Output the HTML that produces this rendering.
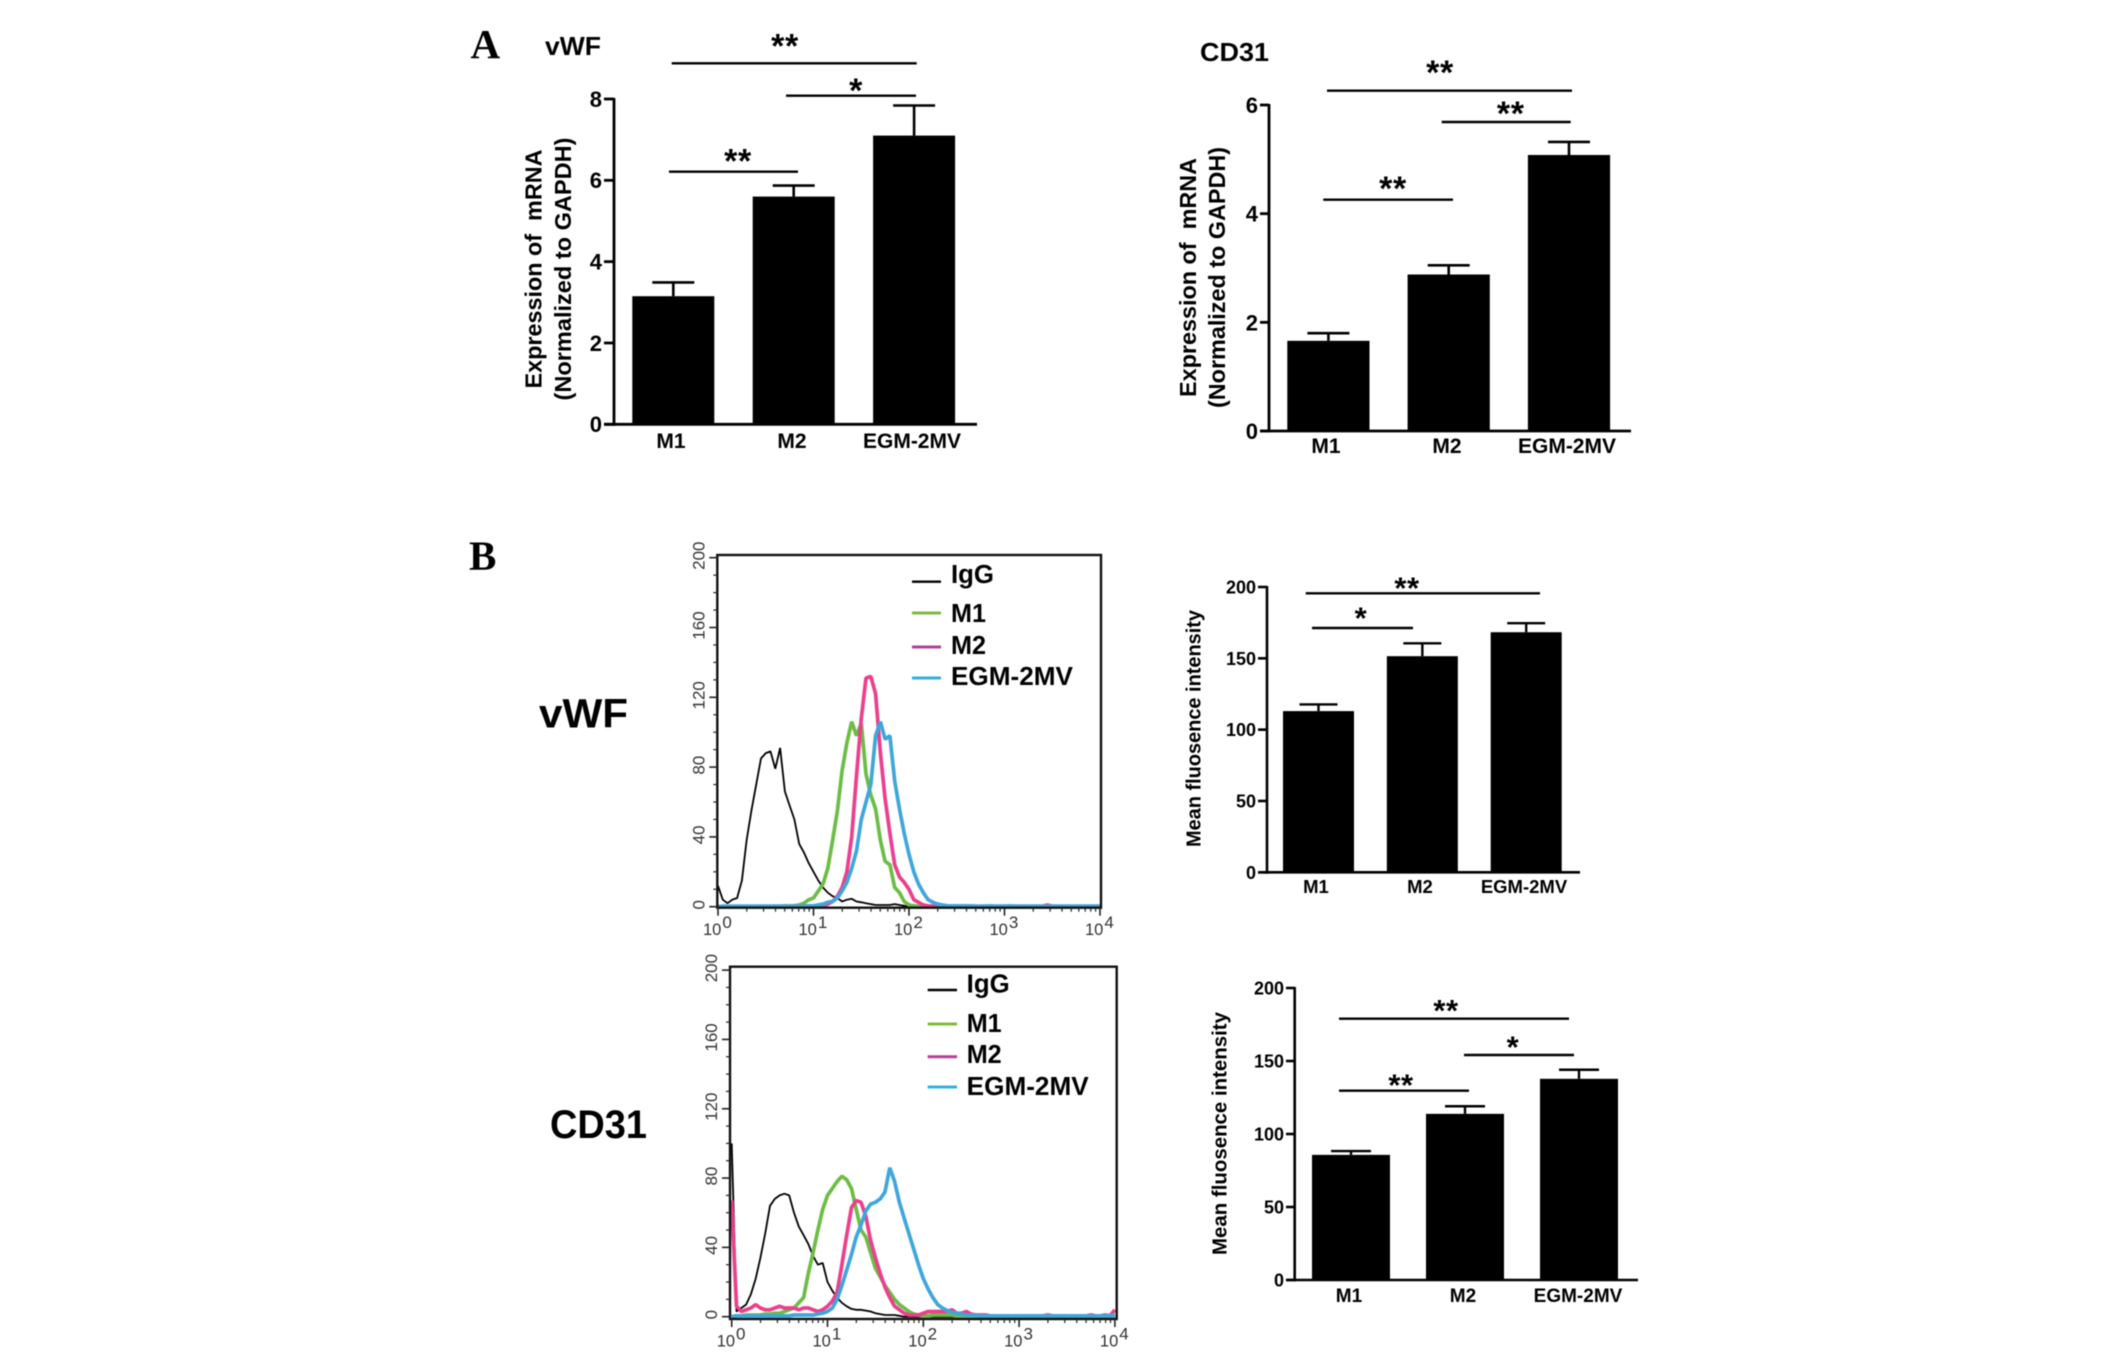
<!DOCTYPE html>
<html lang="en">
<head>
<meta charset="utf-8">
<title>vWF and CD31 expression</title>
<style>
html,body{margin:0;padding:0;background:#fff;}
#figure{display:block;width:2126px;height:1355px;filter:blur(0.45px);}
text{font-family:"Liberation Sans",Arial,sans-serif;fill:#000;}
</style>
</head>
<body>
<svg id="figure" xmlns="http://www.w3.org/2000/svg" width="2126" height="1355" viewBox="0 0 2126 1355">
<rect x="0" y="0" width="2126" height="1355" fill="#fff"/>
<text x="470.5" y="58" style="font-family:'Liberation Serif',serif" font-weight="700" font-size="41">A</text>
<text x="469" y="569.5" style="font-family:'Liberation Serif',serif" font-weight="700" font-size="41">B</text>
<text x="545" y="55" font-weight="700" font-size="26" textLength="56" lengthAdjust="spacingAndGlyphs">vWF</text>
<text x="1200" y="61" font-weight="700" font-size="26" textLength="69" lengthAdjust="spacingAndGlyphs">CD31</text>
<text x="539" y="727.5" font-weight="700" font-size="41" textLength="89" lengthAdjust="spacingAndGlyphs">vWF</text>
<text x="550" y="1138" font-weight="700" font-size="40" textLength="97" lengthAdjust="spacingAndGlyphs">CD31</text>
</svg>
<script>
// ---------- bar chart data ----------
const categories = ['M1', 'M2', 'EGM-2MV'];
const vwfMrnaValues = [3.15, 5.6, 7.1];
const vwfMrnaErrors = [0.34, 0.27, 0.74];
const vwfMrnaTicks = [0, 2, 4, 6, 8];
const cd31MrnaValues = [1.66, 2.88, 5.08];
const cd31MrnaErrors = [0.14, 0.17, 0.24];
const cd31MrnaTicks = [0, 2, 4, 6];
const vwfMfiValues = [113, 151.5, 168.3];
const vwfMfiErrors = [4.7, 9, 6.3];
const vwfMfiTicks = [0, 50, 100, 150, 200];
const cd31MfiValues = [85.7, 113.8, 137.8];
const cd31MfiErrors = [2.6, 5.2, 6.2];
const cd31MfiTicks = [0, 50, 100, 150, 200];

// ---------- flow histogram data: counts per 0.05-decade fluorescence bin, 10^0 to 10^4 ----------
const logBinStep = 0.05;
const flowCountTicks = [0, 40, 80, 120, 160, 200];
const flowDecades = [0, 1, 2, 3, 4];
const vwfIgG = [
12,4,2,4,5,15,38,55,70,85,88,89,79,91,66,58,50,36,31,25,
20,15,11,8,6,5,3,4,4.5,3,2.5,2,1.5,1,1,1,1,1.5,1,0.5,
0,0,0,0,0,0,0,0,0,0,0,0,0,0,0,0,0,0,0,0,
0,0,0,0,0,0,0,0,0,0,0,0,0,0,0,0,0,0,0,0,0];
const vwfM1 = [
0,0,0,0,0,0,0,0,0.3,0.3,0.3,0.3,0.3,0.3,0.5,0.5,0.5,1,2,4,
5,9,13,22,38,55,78,94,106,98,105,76,64,56,38,26,24,11,8,3,
1,0.5,0.3,0.3,0.3,0.3,1,0.5,0.3,0.3,0.3,0.3,0.3,0.5,0.3,0.3,0.3,0.3,0.3,0.3,
0.3,0.3,0.3,0.3,0.3,0.3,0.3,0.3,0.3,0.3,0.3,0.3,0.3,0.3,0.3,0.3,0.3,0.3,0.3,0.3,0.3];
const vwfM2 = [
0,0.3,0.3,0.3,0.3,0.3,0.3,0.3,0.3,0.3,0.3,0.3,0.3,0.3,0.3,0.3,0.5,0.3,0.3,0.3,
0.3,0.3,0.5,1.5,3,6,11,20,40,75,108,131,132,122,88,62,42,24,17,14,
10,4,2.5,1,0.5,0.3,0.3,0.3,0.3,0.3,0.3,0.3,0.3,0.3,0.3,0.3,0.3,0.3,0.3,0.3,
0.3,0.3,0.3,0.3,0.3,0.3,0.3,0.3,0.3,1,0.3,0.3,0.3,0.3,0.3,0.3,0.3,0.3,0.3,0.3,0.3];
const vwfEGM = [
0,0.3,0.3,0.3,0.3,0.3,0.3,0.3,0.3,0.3,0.3,0.3,0.3,0.3,0.3,0.3,0.3,0.3,0.3,0.5,
0.5,1,1.5,2.5,3,5,9,14,22,32,50,60,70,98,106,96,98,72,56,42,
30,20,13,8,4,2.5,1.5,1,0.5,0.5,0.5,0.5,0.5,0.5,0.3,0.3,0.3,0.5,0.3,0.3,
0.3,0.5,0.3,0.3,0.3,0.3,0.3,0.3,0.3,0.3,0.3,0.3,0.3,0.3,0.3,0.3,0.3,0.3,0.3,0.3,0.3];
const cd31IgG = [
100,3,5,7,13,22,34,48,64,68,70,71,70,60,52,47,42,35,30,31,
20,15,11,8,6,4.5,4,4,3.5,3,2,1.5,1,1,1,0.5,0,0,0,0,
0,0,0,0,0,0,0,0,0,0,0,0,0,0,0,0,0,0,0,0,
0,0,0,0,0,0,0,0,0,0,0,0,0,0,0,0,0,0,0,0,0];
const cd31M1 = [
0,0.5,0.5,1,1,1,1,1.5,1.5,2,2,3,4,5,8,11,25,37,50,62,
70,74,78,81,79,74,62,50,46,37,28,23,18,14,10,7,5,3,1.5,1,
0.5,0.5,1,1,1,1,1,0.5,0.5,0.5,0.5,0.3,0.3,0.3,0.3,0.3,0.3,0.3,0.3,0.3,
0.3,0.3,0.3,0.3,0.3,0.3,0.3,0.3,0.3,0.3,0.3,0.3,0.3,0.3,0.3,0.3,0.3,0.3,0.3,0.3,0.3];
const cd31M2 = [
67,6,3,4,5,7,5,4,4,5,6,5,5,5,4,5,5,4,3,4,
6,9,14,30,47,63,67,66,58,44,34,25,17,11,6,4,2,1,1,1,
2,3,3,3,3,3,4,2,2,3,1.5,1,1,1,0.5,0.5,0.5,0.5,0.5,0.5,
0.5,0.5,0.5,0.5,0.5,0.5,1,0.5,0.5,0.5,0.5,0.5,0.5,0.5,0.5,1,0.5,0.5,1,0.5,4];
const cd31EGM = [
0,0.5,0.5,0.5,0.5,0.5,0.5,0.5,0.5,0.5,0.5,0.5,0.5,1,1,1,1,1,1.5,2,
3,5,10,18,27,36,46,53,61,65,66,68,72,86,78,66,57,48,39,30,
22,16,11,7,5,3.5,2.5,2,1.5,1,1,1,0.5,0.5,0.5,0.5,0.5,0.5,0.5,0.5,
0.5,0.5,0.5,0.5,0.5,0.5,0.5,0.5,0.5,0.5,0.5,0.5,0.5,0.5,0.5,0.5,0.5,0.5,0.5,0.5,1];

const seriesColors = {igg: '#000000', m1: '#6cbd45', m2: '#ec3f8c', egm: '#3fa6dc'};
const SVGNS = 'http://www.w3.org/2000/svg';
const figure = document.getElementById('figure');

function mk(tag, attrs, name, parent) {
  const el = document.createElementNS(SVGNS, tag);
  for (const k in attrs) { el.setAttribute(k, attrs[k]); }
  
  
  (parent || figure).appendChild(el);
  return el;
}
function label(str, attrs, name, parent) {
  const t = mk('text', attrs, name, parent);
  t.textContent = str;
  return t;
}
function rule(x1, y1, x2, y2, w, name, parent, color) {
  return mk('line', {x1: x1, y1: y1, x2: x2, y2: y2, stroke: color || '#000', 'stroke-width': w}, name, parent);
}

function drawBarChart(c) {
  const g = mk('g', {}, c.name, figure);
  const yScale = function (v) { return c.yBase - (v / c.yMax) * (c.yBase - c.yTop); };
  const xBar = function (i) { return c.barLeft + i * c.barStep; };
  c.values.forEach(function (v, i) {
    const cx = xBar(i) + c.barWidth / 2;
    const top = yScale(v + c.errors[i]);
    rule(cx, yScale(v), cx, top, c.errW, c.name + '-error-stem-' + categories[i].toLowerCase(), g);
    rule(cx - c.capHalf, top, cx + c.capHalf, top, c.errW, c.name + '-error-cap-' + categories[i].toLowerCase(), g);
    mk('rect', {x: xBar(i), y: yScale(v), width: c.barWidth, height: c.yBase - yScale(v), fill: '#000'}, c.name + '-bar-' + categories[i].toLowerCase(), g);
    label(categories[i], {x: c.catX(i), y: c.catY, 'text-anchor': 'middle', 'font-weight': 700, 'font-size': c.catSize}, c.name + '-x-label-' + categories[i].toLowerCase(), g);
  });
  rule(c.axisX, c.yTop - 1, c.axisX, c.yBase + 1.4, c.axisW, c.name + '-y-axis', g);
  rule(c.tickLeft, c.yBase, c.axisRight, c.yBase, c.axisW, c.name + '-x-axis', g);
  c.ticks.forEach(function (t) {
    rule(c.tickLeft, yScale(t), c.axisX, yScale(t), c.axisW, c.name + '-y-tick-' + t, g);
    label(String(t), {x: c.tickLeft - 2, y: yScale(t) + c.tickSize * 0.36, 'text-anchor': 'end', 'font-weight': 700, 'font-size': c.tickSize}, c.name + '-y-tick-label-' + t, g);
  });
  c.titleLines.forEach(function (ln, i) {
    label(ln.text, {x: ln.x, y: c.titleY, transform: 'rotate(-90 ' + ln.x + ' ' + c.titleY + ')', 'text-anchor': 'middle', 'font-weight': 700, 'font-size': c.titleSize, textLength: ln.len, lengthAdjust: 'spacingAndGlyphs'}, c.name + '-y-title-line-' + (i + 1), g);
  });
  c.brackets.forEach(function (b, i) {
    rule(b.x1, b.y, b.x2, b.y, 2.4, c.name + '-significance-line-' + (i + 1), g);
    label(b.mark, {x: b.sx, y: b.sy + 0.5 * c.starSize, 'text-anchor': 'middle', 'font-weight': 700, 'font-size': c.starSize, 'letter-spacing': 0.6}, c.name + '-significance-mark-' + (i + 1), g);
  });
}

function drawFlowPlot(c) {
  const g = mk('g', {}, c.name, figure);
  const xScale = function (logV) { return c.x0 + logV * c.decade; };
  const yScale = function (v) { return c.y0 - v * c.yUnit; };
  const pathFor = function (arr) {
    return arr.map(function (v, i) {
      return (i ? 'L' : 'M') + xScale(i * logBinStep).toFixed(1) + ' ' + yScale(v).toFixed(1);
    }).join(' ');
  };
  c.series.forEach(function (s) {
    mk('path', {d: pathFor(s.data), fill: 'none', stroke: seriesColors[s.key], 'stroke-width': s.key === 'igg' ? 1.8 : 3.7, 'stroke-linejoin': 'bevel'}, c.name + '-curve-' + s.key, g);
  });
  mk('rect', {x: c.left, y: c.top, width: c.right - c.left, height: c.bottom - c.top, fill: 'none', stroke: '#111', 'stroke-width': 2.4}, c.name + '-frame', g);
  flowCountTicks.forEach(function (t) {
    rule(c.left - 8, yScale(t), c.left, yScale(t), 1.6, c.name + '-y-tick-' + t, g, '#222');
    const lx = c.left - 13;
    const ly = yScale(t) - 2;
    label(String(t), {x: lx, y: ly, transform: 'rotate(-90 ' + lx + ' ' + ly + ')', 'text-anchor': 'middle', 'font-size': 17, style: 'fill:#333'}, c.name + '-y-tick-label-' + t, g);
    if (t < 200) {
      [10, 20, 30].forEach(function (m) {
        rule(c.left - 4, yScale(t + m), c.left, yScale(t + m), 1.2, c.name + '-y-minor-tick', g, '#222');
      });
    }
  });
  flowDecades.forEach(function (d) {
    rule(xScale(d), c.bottom, xScale(d), c.bottom + 8, 1.6, c.name + '-x-tick-' + d, g, '#222');
    const t = label('10', {x: xScale(d) - 15, y: c.bottom + 27.5, 'font-size': 16.5, style: 'fill:#333'}, c.name + '-x-tick-label-' + d, g);
    const sup = document.createElementNS(SVGNS, 'tspan');
    sup.setAttribute('dy', '-7');
    sup.setAttribute('dx', '1');
    sup.setAttribute('font-size', '17');
    sup.textContent = String(d);
    t.appendChild(sup);
    if (d < 4) {
      [2, 3, 4, 5, 6, 7, 8, 9].forEach(function (m) {
        const mx = xScale(d + Math.log10(m));
        rule(mx, c.bottom, mx, c.bottom + 4, 1.2, c.name + '-x-minor-tick', g, '#222');
      });
    }
  });
  c.legend.forEach(function (l) {
    rule(c.legLine1, l.ly, c.legLine2, l.ly, l.key === 'igg' ? 2.4 : 3, c.name + '-legend-line-' + l.key, g, l.color);
    label(l.text, {x: c.legText, y: l.ty, 'font-weight': 700, 'font-size': 25.5, textLength: l.len, lengthAdjust: 'spacingAndGlyphs'}, c.name + '-legend-label-' + l.key, g);
  });
}

drawBarChart({
  name: 'vwf-mrna-chart', values: vwfMrnaValues, errors: vwfMrnaErrors, ticks: vwfMrnaTicks, yMax: 8,
  yTop: 99, yBase: 424.3, axisX: 614, tickLeft: 604, axisRight: 977, axisW: 2.8,
  barLeft: 632.3, barWidth: 82, barStep: 120.4, capHalf: 21, errW: 2.6,
  catX: function (i) { return [671, 792, 912][i]; }, catY: 448, catSize: 21, tickSize: 22,
  titleSize: 23, titleY: 269,
  titleLines: [{text: 'Expression of\u00a0\u00a0mRNA', x: 541.7, len: 239}, {text: '(Normalized to GAPDH)', x: 571, len: 263}],
  starSize: 34,
  brackets: [
    {x1: 671.7, x2: 916.7, y: 63.3, mark: '**', sx: 785, sy: 40.7},
    {x1: 786, x2: 916, y: 95.7, mark: '*', sx: 856, sy: 85},
    {x1: 669, x2: 798, y: 171.7, mark: '**', sx: 738, sy: 155.7}
  ]
});
drawBarChart({
  name: 'cd31-mrna-chart', values: cd31MrnaValues, errors: cd31MrnaErrors, ticks: cd31MrnaTicks, yMax: 6,
  yTop: 105, yBase: 431, axisX: 1269, tickLeft: 1260, axisRight: 1631, axisW: 2.8,
  barLeft: 1287.3, barWidth: 82.2, barStep: 120.3, capHalf: 21, errW: 2.6,
  catX: function (i) { return [1326, 1447, 1567][i]; }, catY: 453, catSize: 21, tickSize: 22,
  titleSize: 23, titleY: 277.5,
  titleLines: [{text: 'Expression of\u00a0\u00a0mRNA', x: 1196, len: 239}, {text: '(Normalized to GAPDH)', x: 1225, len: 261}],
  starSize: 34,
  brackets: [
    {x1: 1327, x2: 1572, y: 90.7, mark: '**', sx: 1440, sy: 67},
    {x1: 1441.7, x2: 1570.7, y: 122, mark: '**', sx: 1510.7, sy: 108},
    {x1: 1323.3, x2: 1453, y: 199.7, mark: '**', sx: 1393, sy: 183}
  ]
});
drawBarChart({
  name: 'vwf-mfi-chart', values: vwfMfiValues, errors: vwfMfiErrors, ticks: vwfMfiTicks, yMax: 200,
  yTop: 587, yBase: 872.3, axisX: 1267, tickLeft: 1258, axisRight: 1580, axisW: 2.6,
  barLeft: 1283, barWidth: 71, barStep: 103.85, capHalf: 19, errW: 2.4,
  catX: function (i) { return [1316, 1420, 1524][i]; }, catY: 893, catSize: 18.5, tickSize: 18,
  titleSize: 20, titleY: 728.5,
  titleLines: [{text: 'Mean fluosence intensity', x: 1200.7, len: 237}],
  starSize: 31,
  brackets: [
    {x1: 1305.7, x2: 1540, y: 593.3, mark: '**', sx: 1407, sy: 583},
    {x1: 1312, x2: 1413, y: 628, mark: '*', sx: 1361, sy: 613}
  ]
});
drawBarChart({
  name: 'cd31-mfi-chart', values: cd31MfiValues, errors: cd31MfiErrors, ticks: cd31MfiTicks, yMax: 200,
  yTop: 988, yBase: 1280, axisX: 1294.7, tickLeft: 1286, axisRight: 1638, axisW: 2.6,
  barLeft: 1312, barWidth: 78, barStep: 114, capHalf: 20, errW: 2.4,
  catX: function (i) { return [1349, 1463, 1578][i]; }, catY: 1302, catSize: 19, tickSize: 18,
  titleSize: 20, titleY: 1133.5,
  titleLines: [{text: 'Mean fluosence intensity', x: 1226.7, len: 243}],
  starSize: 31,
  brackets: [
    {x1: 1339, x2: 1569, y: 1018.7, mark: '**', sx: 1446, sy: 1005.7},
    {x1: 1464, x2: 1574, y: 1055, mark: '*', sx: 1513, sy: 1042},
    {x1: 1339, x2: 1469, y: 1090.7, mark: '**', sx: 1401, sy: 1080}
  ]
});
drawFlowPlot({
  name: 'vwf-flow-histogram', left: 717.3, top: 555, right: 1101, bottom: 907.7,
  x0: 718, decade: 95.5, y0: 906.7, yUnit: 1.745,
  series: [{key: 'igg', data: vwfIgG}, {key: 'm1', data: vwfM1}, {key: 'm2', data: vwfM2}, {key: 'egm', data: vwfEGM}],
  legLine1: 912, legLine2: 941, legText: 951,
  legend: [
    {key: 'igg', text: 'IgG', color: '#000', ly: 581.7, ty: 583, len: 43},
    {key: 'm1', text: 'M1', color: '#7cbb3e', ly: 613, ty: 622, len: 35},
    {key: 'm2', text: 'M2', color: '#b5409b', ly: 647, ty: 654, len: 35},
    {key: 'egm', text: 'EGM-2MV', color: '#2fb0e6', ly: 678, ty: 685, len: 122}
  ]
});
drawFlowPlot({
  name: 'cd31-flow-histogram', left: 730, top: 966.7, right: 1116.7, bottom: 1319,
  x0: 731.7, decade: 95.8, y0: 1316.7, yUnit: 1.733,
  series: [{key: 'igg', data: cd31IgG}, {key: 'm1', data: cd31M1}, {key: 'm2', data: cd31M2}, {key: 'egm', data: cd31EGM}],
  legLine1: 927.7, legLine2: 957, legText: 966.7,
  legend: [
    {key: 'igg', text: 'IgG', color: '#000', ly: 990, ty: 992.7, len: 43},
    {key: 'm1', text: 'M1', color: '#7cbb3e', ly: 1024, ty: 1032, len: 35},
    {key: 'm2', text: 'M2', color: '#b5409b', ly: 1056.7, ty: 1063, len: 35},
    {key: 'egm', text: 'EGM-2MV', color: '#2fb0e6', ly: 1087, ty: 1095, len: 122}
  ]
});
</script>
</body>
</html>
